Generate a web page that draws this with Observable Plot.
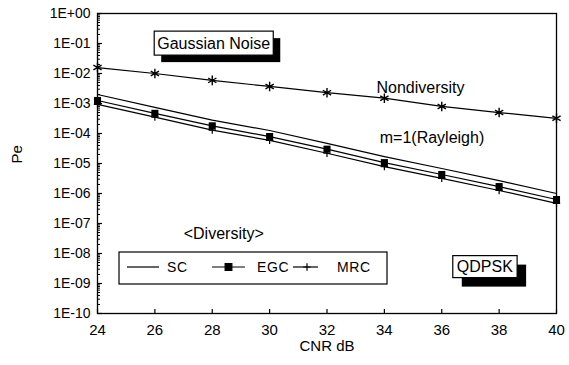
<!DOCTYPE html>
<html>
<head>
<meta charset="utf-8">
<script src="https://cdn.jsdelivr.net/npm/d3@7"></script>
<script src="https://cdn.jsdelivr.net/npm/@observablehq/plot@0.6"></script>
<style>
  html, body { margin: 0; padding: 0; background: #fff; }
  #chart svg { font-family: "Liberation Sans", Arial, sans-serif; }
</style>
</head>
<body>
<div id="chart"></div>
<script>
// Carrier-to-noise ratio (dB) and symbol error probability for QDPSK
const cnr = [24, 26, 28, 30, 32, 34, 36, 38, 40];
const nondiversity = [1.58e-2, 1.0e-2, 5.9e-3, 3.7e-3, 2.3e-3, 1.5e-3, 8.0e-4, 5.0e-4, 3.2e-4];
const sc  = [2.0e-3, 7.4e-4, 2.8e-4, 1.26e-4, 4.7e-5, 1.7e-5, 6.8e-6, 2.7e-6, 1.0e-6];
const egc = [1.26e-3, 4.7e-4, 1.8e-4, 7.9e-5, 3.0e-5, 1.07e-5, 4.3e-6, 1.7e-6, 6.3e-7];
const mrc = [9.3e-4, 3.5e-4, 1.3e-4, 5.9e-5, 2.2e-5, 7.9e-6, 3.2e-6, 1.26e-6, 4.7e-7];

const seriesNames = ["Nondiversity", "SC", "EGC", "MRC"];
const seriesValues = [nondiversity, sc, egc, mrc];
const seriesSymbols = ["asterisk", null, "square", "plus"];

const xTicks = [24, 26, 28, 30, 32, 34, 36, 38, 40];
const yTicks = [1, 1e-1, 1e-2, 1e-3, 1e-4, 1e-5, 1e-6, 1e-7, 1e-8, 1e-9, 1e-10];
const yTickLabels = ["1E+00", "1E-01", "1E-02", "1E-03", "1E-04", "1E-05",
                     "1E-06", "1E-07", "1E-08", "1E-09", "1E-10"];

// Annotations placed in data coordinates
const noteText = ["Gaussian Noise", "QDPSK", "Nondiversity", "m=1(Rayleigh)", "<Diversity>"];
const noteCnr  = [28.05, 37.5, 35.26, 35.66, 28.4];
const notePe   = [1e-1, 3.55e-9, 3.2e-3, 7.4e-5, 4.6e-8];
// boxed labels: padding and drop-shadow offset
const noteBoxes = {
  "Gaussian Noise": {padX: 3, padY: 3.5, shadow: 7},
  "QDPSK": {padX: 4, padY: 2.5, shadow: 9}
};

// Legend entries (diversity schemes)
const legendNames = ["SC", "EGC", "MRC"];

const rows = seriesNames.flatMap((name, s) =>
  cnr.map((x, i) => ({series: name, cnr: x, pe: seriesValues[s][i], symbol: seriesSymbols[s]})));
const notes = noteText.map((t, i) => ({text: t, cnr: noteCnr[i], pe: notePe[i]}));

// minor log ticks 2..9 within each decade
const minorTicks = d3.range(-10, 0).flatMap(e => d3.range(2, 10).map(m => m * Math.pow(10, e)));

const W = 569, H = 365, ML = 97, MR = 13, MT = 13, MB = 52;
const innerW = W - ML - MR, innerH = H - MT - MB;

const plot = Plot.plot({
  width: W,
  height: H,
  marginLeft: ML,
  marginRight: MR,
  marginTop: MT,
  marginBottom: MB,
  style: {fontFamily: "Liberation Sans, Arial, sans-serif", fontSize: "14px", color: "#000", background: "#fff"},
  x: {domain: [24, 40], label: null},
  y: {type: "log", domain: [1e-10, 1], label: null},
  marks: [
    // inward tick marks
    Plot.tickX(xTicks, {x: d => d, insetTop: innerH - 4, stroke: "#000", strokeWidth: 1.2}),
    Plot.tickY(yTicks, {y: d => d, insetRight: innerW - 5, stroke: "#000", strokeWidth: 1.2}),
    Plot.tickY(minorTicks, {y: d => d, insetRight: innerW - 3, stroke: "#000", strokeWidth: 1}),
    Plot.frame({stroke: "#000", strokeWidth: 1.3}),
    Plot.axisX({ticks: xTicks, tickSize: 0, tickPadding: 11, label: null, fontSize: 15, letterSpacing: 1}),
    Plot.axisY({ticks: yTicks, tickSize: 0, tickPadding: 7, label: null, fontSize: 14, letterSpacing: 0.8,
                tickFormat: d => yTickLabels[yTicks.indexOf(d)]}),
    Plot.text(["Pe"], {frameAnchor: "left", rotate: -90, dx: -80, fontSize: 15}),
    Plot.text(["CNR dB"], {frameAnchor: "bottom", dy: 37, fontSize: 15}),
    Plot.line(rows, {x: "cnr", y: "pe", z: "series", stroke: "#000", strokeWidth: 1.2}),
    Plot.dot(rows.filter(d => d.symbol === "square"), {x: "cnr", y: "pe", symbol: "square", fill: "#000", r: 4}),
    Plot.dot(rows.filter(d => d.symbol === "asterisk"), {x: "cnr", y: "pe", symbol: "asterisk", stroke: "#000", strokeWidth: 1.4, r: 4.5}),
    Plot.dot(rows.filter(d => d.symbol === "plus"), {x: "cnr", y: "pe", symbol: "plus", stroke: "#000", strokeWidth: 1.2, r: 2.5}),
    Plot.text(notes, {x: "cnr", y: "pe", text: "text", fontSize: 16, letterSpacing: 0.3, fill: "#000"})
  ]
});

document.getElementById("chart").appendChild(plot);

const svg = d3.select(plot);

// Boxed labels with a drop shadow
svg.selectAll("text").filter(function () { return this.textContent in noteBoxes; })
  .each(function () {
    const cfg = noteBoxes[this.textContent];
    const bb = this.getBBox();
    const parent = d3.select(this.parentNode);
    const tf = this.getAttribute("transform");
    const x = bb.x - cfg.padX, y = bb.y - cfg.padY;
    const w = bb.width + 2 * cfg.padX, h = bb.height + 2 * cfg.padY;
    parent.insert("rect", () => this).attr("transform", tf)
      .attr("x", x + cfg.shadow).attr("y", y + cfg.shadow).attr("width", w).attr("height", h).attr("fill", "#000");
    parent.insert("rect", () => this).attr("transform", tf)
      .attr("x", x).attr("y", y).attr("width", w).attr("height", h)
      .attr("fill", "#fff").attr("stroke", "#000").attr("stroke-width", 1.2);
  });

// Legend box for the diversity schemes
const legend = svg.append("g").attr("transform", "translate(119,252)").attr("text-anchor", "start");
legend.append("rect").attr("width", 268).attr("height", 32)
  .attr("fill", "#fff").attr("stroke", "#000").attr("stroke-width", 1.2);
const legendLayout = [
  {x0: 8, x1: 40, tx: 48},
  {x0: 93, x1: 126, tx: 138},
  {x0: 174, x1: 199, tx: 218}
];
const symbolFor = {square: d3.symbolSquare, plus: d3.symbolPlus};
legendNames.forEach((name, i) => {
  const L = legendLayout[i];
  const sym = seriesSymbols[seriesNames.indexOf(name)];
  const g = legend.append("g").attr("transform", "translate(0,15)");
  g.append("line").attr("x1", L.x0).attr("x2", L.x1).attr("stroke", "#000").attr("stroke-width", 1.2);
  if (sym) {
    const cx = (L.x0 + L.x1) / 2 + (sym === "plus" ? 1.5 : 0);
    const path = d3.symbol(symbolFor[sym], sym === "square" ? 45 : 20)();
    g.append("path").attr("d", path).attr("transform", `translate(${cx},0)`)
      .attr("fill", sym === "square" ? "#000" : "none").attr("stroke", "#000").attr("stroke-width", 1.2);
  }
  g.append("text").attr("x", L.tx).attr("dy", "0.35em").attr("font-size", 14)
    .attr("letter-spacing", 0.6).attr("fill", "#000").text(name);
});
</script>
</body>
</html>
